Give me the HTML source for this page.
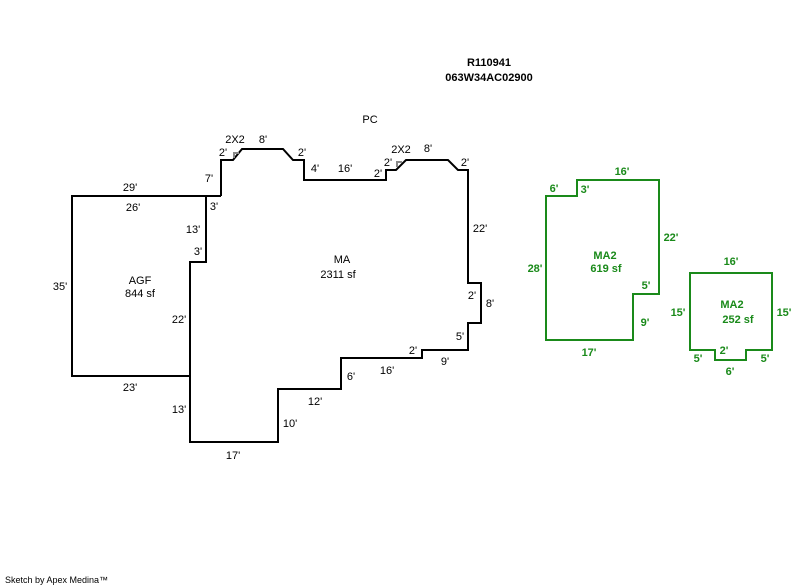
<!DOCTYPE html><html><head><style>body{margin:0;background:#fff}svg{display:block}text{font-family:"Liberation Sans",sans-serif;font-size:11px}.g{fill:#1a8a1a;font-weight:bold}</style></head><body>
<svg width="800" height="587" viewBox="0 0 800 587">
<g fill="none" stroke="#000" stroke-width="2">
<polyline points="190,376 72,376 72,196 221,196"/>
<polyline points="221,196 221,160 233,160 242,149 283,149 293,160 304,160 304,180 386,180 386,170 396,170 406,160 448,160 458,170 468,170 468,283 481,283 481,323 468,323 468,350 422,350 422,358 341,358 341,389 278,389 278,442 190,442 190,262 206,262 206,196"/>
</g>
<g fill="none" stroke="#888" stroke-width="2"><polyline points="234,158 234,153 239,153"/><polyline points="397,167 397,162 402,162"/></g>
<g fill="none" stroke="#1a8a1a" stroke-width="2">
<polygon points="546,196 577,196 577,180 659,180 659,294 633,294 633,340 546,340"/>
<polygon points="690,273 772,273 772,350 746,350 746,360 715,360 715,350 690,350"/>
</g>
<g text-anchor="middle">
<text x="489" y="66" font-weight="bold">R110941</text><text x="489" y="81" font-weight="bold">063W34AC02900</text>
<text x="370" y="123">PC</text>
<text x="235" y="143">2X2</text><text x="263" y="143">8'</text><text x="223" y="156">2'</text><text x="302" y="156">2'</text>
<text x="209" y="182">7'</text><text x="315" y="172">4'</text><text x="345" y="172">16'</text><text x="378" y="177">2'</text>
<text x="401" y="153">2X2</text><text x="428" y="152">8'</text><text x="388" y="166">2'</text><text x="465" y="166">2'</text>
<text x="130" y="191">29'</text><text x="133" y="211">26'</text><text x="214" y="210">3'</text><text x="193" y="233">13'</text><text x="198" y="255">3'</text>
<text x="480" y="232">22'</text><text x="342" y="263">MA</text><text x="338" y="278">2311 sf</text>
<text x="140" y="284">AGF</text><text x="140" y="297">844 sf</text><text x="60" y="290">35'</text>
<text x="472" y="299">2'</text><text x="490" y="307">8'</text><text x="460" y="340">5'</text><text x="179" y="323">22'</text>
<text x="413" y="354">2'</text><text x="445" y="365">9'</text><text x="387" y="374">16'</text><text x="351" y="380">6'</text>
<text x="130" y="391">23'</text><text x="179" y="413">13'</text><text x="315" y="405">12'</text><text x="290" y="427">10'</text><text x="233" y="459">17'</text>
</g>
<g text-anchor="middle" class="g">
<text x="554" y="192" class="g">6'</text><text x="585" y="193" class="g">3'</text><text x="622" y="175" class="g">16'</text>
<text x="671" y="241" class="g">22'</text><text x="535" y="272" class="g">28'</text><text x="605" y="259" class="g">MA2</text><text x="606" y="272" class="g">619 sf</text>
<text x="646" y="289" class="g">5'</text><text x="645" y="326" class="g">9'</text><text x="589" y="356" class="g">17'</text>
<text x="731" y="265" class="g">16'</text><text x="732" y="308" class="g">MA2</text><text x="738" y="323" class="g">252 sf</text>
<text x="678" y="316" class="g">15'</text><text x="784" y="316" class="g">15'</text>
<text x="698" y="362" class="g">5'</text><text x="724" y="354" class="g">2'</text><text x="765" y="362" class="g">5'</text><text x="730" y="375" class="g">6'</text>
</g>
<text x="5" y="583" style="font-size:9px">Sketch by Apex Medina™</text>
</svg></body></html>
